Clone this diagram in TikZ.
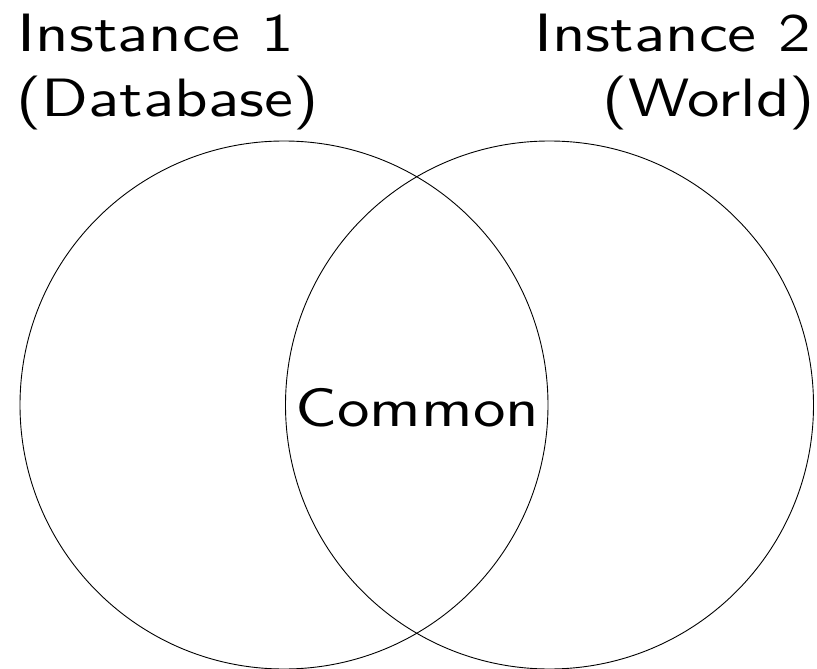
\documentclass[tikz,border=0pt]{standalone}
\usepackage{graphicx}
\tikzset{
  setcirc/.style={circle, draw, line width=0.9pt, minimum size=528pt, inner sep=0pt},
  lbl/.style={inner sep=0pt, outer sep=0pt},
}
\newcommand{\bigtxt}[1]{\scalebox{6.5}[5.4]{\fontsize{10}{12}\selectfont\sffamily #1}}
\begin{document}
\begin{tikzpicture}[x=1pt,y=-1pt]
\useasboundingbox (0,0) rectangle (817,669);
\node[setcirc] (left) at (284,405) {};
\node[setcirc] (right) at (549.5,405) {};
\node[lbl, anchor=base west] (i1) at (17.6,52) {\bigtxt{Instance 1}};
\node[lbl, anchor=base west] (db) at (16.5,116) {\bigtxt{(Database)}};
\node[lbl, anchor=base east] (i2) at (811,52) {\bigtxt{Instance 2}};
\node[lbl, anchor=base east] (w) at (815,116) {\bigtxt{(World)}};
\node[lbl, anchor=base] (common) at (417.5,426) {\bigtxt{Common}};
\end{tikzpicture}
\end{document}
